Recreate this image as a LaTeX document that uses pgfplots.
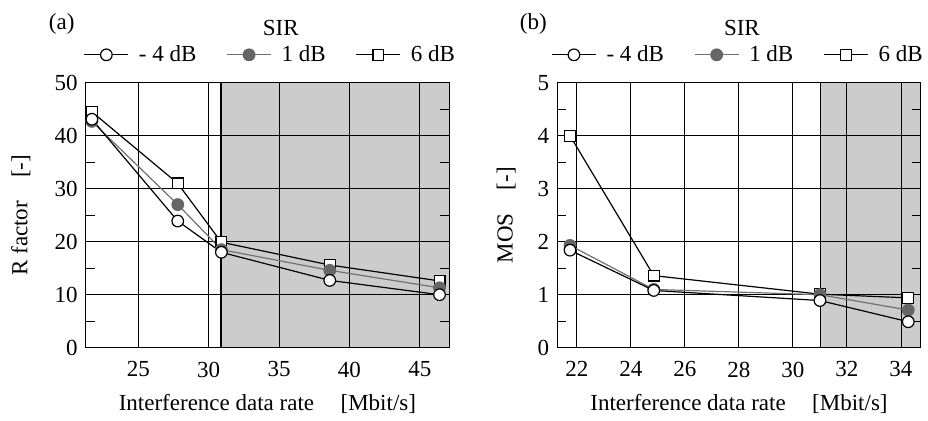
\documentclass[border=0pt]{standalone}
\usepackage{fontspec}
\setmainfont{Liberation Serif}
\usepackage{pgfplots}
\pgfplotsset{compat=1.18}

\definecolor{shade}{HTML}{CCCCCC}
\definecolor{midgray}{HTML}{707070}
\definecolor{markgray}{HTML}{666666}

\pgfplotsset{
  panel/.style={
    set layers=standard,
    width=181.7pt, height=132.5pt, scale only axis,
    clip=false,
    font=\fontsize{11.5}{13}\selectfont,
    /pgf/number format/assume math mode=true,
    ymin=0,
    grid=major,
    major grid style={black, line width=0.45pt},
    axis line style={line width=0.55pt},
    major tick length=0pt,
    minor y tick num=1,
    minor tick length=4.5pt,
    minor tick style={black, line width=0.5pt},
    tick align=inside,
    xticklabel style={yshift=-3.5pt},
    yticklabel style={xshift=-0.5pt},
    every axis x label/.style={at={(axis description cs:0.5,0)}, anchor=center, yshift=-28pt},
    every axis y label/.style={at={(axis description cs:0,0.5)}, anchor=center, rotate=90},
    legend columns=3,
    reverse legend,
    legend style={draw=none, fill=none, at={(0.5,1)}, anchor=south, yshift=5pt,
      inner xsep=0pt,
      font=\fontsize{11.5}{13}\selectfont,
      /tikz/every odd column/.append style={column sep=3pt},
      /tikz/every even column/.append style={column sep=13pt}},
    legend image code/.code={\draw[mark repeat=2,mark phase=2] plot coordinates {(0pt,0pt)(11pt,0pt)(22pt,0pt)};},
  },
  sneg/.style={black, line width=0.6pt, mark=*, mark size=2.9pt, mark options={fill=white, draw=black, solid}},
  sone/.style={midgray, line width=0.6pt, mark=*, mark size=2.9pt, mark options={fill=markgray, draw=markgray, solid}},
  ssix/.style={black, line width=0.6pt, mark=square*, mark size=2.7pt, mark options={fill=white, draw=black, solid}},
}

\begin{document}
\begin{tikzpicture}
% (a) R factor
\begin{axis}[panel,
    xmin=21.26, xmax=47.08, ymax=50,
    xtick={25,30,35,40,45}, ytick={0,10,20,30,40,50},
    xlabel={Interference data rate\hspace{1.15em}[Mbit/s]},
    ylabel={R factor\hspace{1em}[-]},
    ylabel style={yshift=32.5pt},
    legend style={xshift=2pt},
]
\addplot[fill=shade, draw=none, forget plot, on layer=axis background]
  coordinates {(30.9,0) (30.9,50) (47.08,50) (47.08,0)} \closedcycle;
\addplot[black, line width=1pt, forget plot] coordinates {(30.9,0) (30.9,50)};
\addplot[ssix] coordinates {(21.7,44.5) (27.8,31.0) (30.9,19.9) (38.6,15.6) (46.4,12.6)};
\addlegendentry{6 dB}
\addplot[sone] coordinates {(21.7,42.7) (27.8,27.0) (30.9,18.5) (38.6,14.6) (46.4,11.3)};
\addlegendentry{1 dB}
\addplot[sneg] coordinates {(21.7,43.1) (27.8,23.9) (30.9,18.0) (38.6,12.7) (46.4,10.0)};
\addlegendentry{- 4 dB}
\node at (axis description cs:0.537,1) [yshift=27.5pt] {SIR};
\node at (axis description cs:0,1) [xshift=-12pt, yshift=29.5pt] {(a)};
\end{axis}

% (b) MOS
\begin{axis}[panel, at={(235.8pt,0pt)},
    xmin=21.28, xmax=34.73, ymax=5,
    xtick={22,24,26,28,30,32,34}, ytick={0,1,2,3,4,5},
    xlabel={Interference data rate\hspace{1.15em}[Mbit/s]},
    ylabel={MOS\hspace{1em}[-]},
    ylabel style={yshift=25.5pt},
]
\addplot[fill=shade, draw=none, forget plot, on layer=axis background]
  coordinates {(31.02,0) (31.02,5) (34.73,5) (34.73,0)} \closedcycle;
\addplot[black, line width=0.8pt, forget plot] coordinates {(31.02,0) (31.02,5)};
\addplot[ssix] coordinates {(21.75,4.0) (24.85,1.36) (31.0,1.01) (34.27,0.94)};
\addlegendentry{6 dB}
\addplot[sone] coordinates {(21.75,1.93) (24.85,1.10) (31.0,1.0) (34.27,0.71)};
\addlegendentry{1 dB}
\addplot[sneg] coordinates {(21.75,1.84) (24.85,1.08) (31.0,0.89) (34.27,0.49)};
\addlegendentry{- 4 dB}
\node at (axis description cs:0.508,1) [yshift=27.5pt] {SIR};
\node at (axis description cs:0,1) [xshift=-12pt, yshift=29.5pt] {(b)};
\end{axis}

\path (-42.85pt,-34.65pt) rectangle (421.15pt,173.85pt);
\end{tikzpicture}
\end{document}
